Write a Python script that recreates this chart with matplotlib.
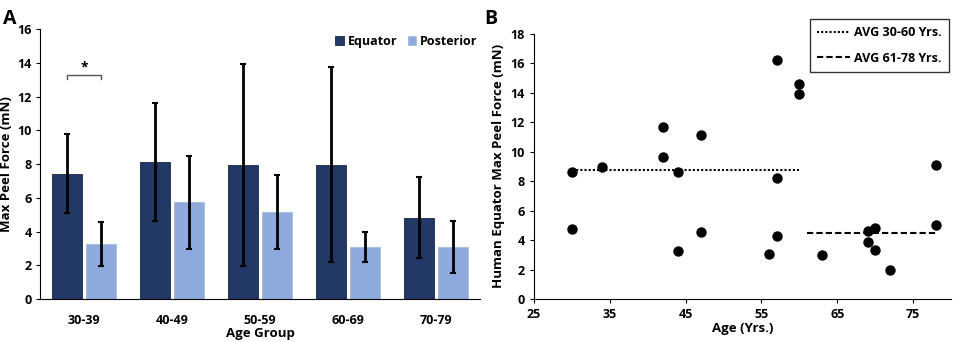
import matplotlib.pyplot as plt
import numpy as np

plt.rcParams['font.family'] = ['Open Sans', 'DejaVu Sans']
plt.rcParams['font.weight'] = 'bold'
plt.rcParams['axes.labelweight'] = 'bold'
plt.rcParams['font.size'] = 9

# panel A data
age_groups = ["30-39", "40-49", "50-59", "60-69", "70-79"]
equator_mean = [7.44, 8.11, 7.93, 7.97, 4.81]
equator_err = [2.35, 3.5, 6.0, 5.8, 2.4]
posterior_mean = [3.24, 5.74, 5.14, 3.07, 3.07]
posterior_err = [1.3, 2.75, 2.2, 0.9, 1.55]

# panel B data
ages = [30, 30, 34, 42, 42, 44, 44, 47, 47, 56, 57, 57, 57, 60, 60,
        63, 69, 69, 70, 70, 72, 78, 78]
peel_force = [8.64, 4.75, 8.98, 11.65, 9.66, 8.64, 3.24, 11.13, 4.55, 3.03, 16.24, 8.21, 4.28, 14.6, 13.9,
              2.96, 4.64, 3.85, 4.8, 3.35, 1.99, 9.07, 5.02]

eq_color = '#223864'
post_color = '#8EA9DB'

fig = plt.figure(figsize=(9.63, 3.42), dpi=100)
axA = fig.add_axes([0.0415, 0.1257, 0.457, 0.789])
axB = fig.add_axes([0.5545, 0.1257, 0.433, 0.776])

# ---- panel A ----
x = np.arange(len(age_groups))
w = 0.34
off = 0.19
axA.bar(x - off, equator_mean, w, color=eq_color, edgecolor='#16284a', linewidth=0.6,
        label='Equator', zorder=2)
axA.bar(x + off, posterior_mean, w, color=post_color, edgecolor='#a4bce6', linewidth=0.6,
        label='Posterior', zorder=2)
axA.errorbar(x - off, equator_mean, yerr=equator_err, fmt='none', ecolor='black',
             elinewidth=2, capsize=2.5, capthick=1.5, zorder=3)
axA.errorbar(x + off, posterior_mean, yerr=posterior_err, fmt='none', ecolor='black',
             elinewidth=2, capsize=2.5, capthick=1.5, zorder=3)

# significance bracket
bx0, bx1 = x[0] - off, x[0] + off
axA.plot([bx0, bx0, bx1, bx1], [13.05, 13.3, 13.3, 13.05], color='#555555', lw=1)
axA.text(x[0], 13.3, '*', ha='center', va='bottom', fontsize=10)

axA.set_xlim(-0.5, 4.5)
axA.set_ylim(0, 16)
axA.set_yticks(np.arange(0, 17, 2))
axA.set_xticks(x)
axA.set_xticklabels(age_groups)
axA.set_xlabel('Age Group', labelpad=0, fontsize=9.5)
axA.set_ylabel('Max Peel Force (mN)', labelpad=3, fontsize=9.5)
axA.spines['top'].set_visible(False)
axA.spines['right'].set_visible(False)
axA.tick_params(axis='x', length=0, pad=11)
axA.tick_params(axis='y', length=3, direction='out', pad=3)
axA.legend(loc='upper right', frameon=False, handlelength=0.7, handleheight=0.7,
           ncol=2, columnspacing=0.8, handletextpad=0.3, fontsize=9,
           bbox_to_anchor=(1.02, 1.02))
fig.text(0.003, 0.975, 'A', fontsize=14, fontweight='bold', va='top')

# ---- panel B ----
ages_arr = np.array(ages)
force_arr = np.array(peel_force)
young = (ages_arr >= 30) & (ages_arr <= 60)
old = (ages_arr >= 61) & (ages_arr <= 78)
axB.scatter(ages_arr, force_arr, s=42, color='black', zorder=3)
axB.plot([30, 60], [force_arr[young].mean()] * 2, color='black', lw=1.5, ls=(0, (1, 1)),
         label='AVG 30-60 Yrs.')
axB.plot([61, 78], [force_arr[old].mean()] * 2, color='black', lw=1.5, ls=(0, (3, 1.5)),
         label='AVG 61-78 Yrs.')
axB.set_xlim(25, 80)
axB.set_ylim(0, 18)
axB.set_xticks([25, 35, 45, 55, 65, 75])
axB.set_yticks(np.arange(0, 19, 2))
axB.set_xlabel('Age (Yrs.)', labelpad=1, fontsize=9.5)
axB.set_ylabel('Human Equator Max Peel Force (mN)', labelpad=4, fontsize=9.5)
axB.spines['top'].set_visible(False)
axB.spines['right'].set_visible(False)
axB.tick_params(axis='both', length=3, direction='out')
leg = axB.legend(loc='upper right', frameon=True, fancybox=False, fontsize=9,
                 handlelength=2.6, handletextpad=0.3, labelspacing=1.0,
                 bbox_to_anchor=(1.01, 1.08), borderpad=0.6)
leg.get_frame().set_edgecolor('black')
leg.get_frame().set_linewidth(1.0)
fig.text(0.503, 0.975, 'B', fontsize=14, fontweight='bold', va='top')

fig.savefig('out.png', dpi=100)
